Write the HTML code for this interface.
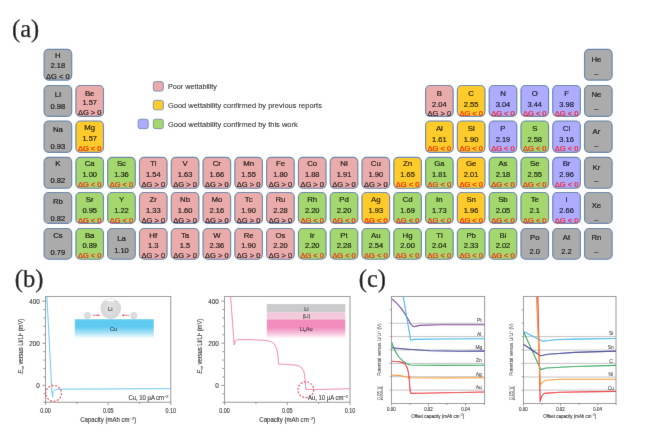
<!DOCTYPE html>
<html><head><meta charset="utf-8"><style>
html,body{margin:0;padding:0;background:#fff;}
body{width:650px;height:442px;overflow:hidden;position:relative;}
svg{position:absolute;left:0;top:0;}
text{font-family:"Liberation Sans",sans-serif;}
.c{font-size:7.5px;text-anchor:middle;fill:#000;stroke:#000;stroke-width:0.15px;}
.r{fill:#f5100a;stroke:#f5100a;stroke-width:0.24px;}
.s{font-size:7.8px;}
.lg{font-size:7.9px;fill:#111;stroke:#111;stroke-width:0.06px;}
.lab{font-family:"Liberation Serif",serif;font-size:24.5px;fill:#000;stroke:#000;stroke-width:0.25px;}
</style></head><body>
<svg width="650" height="442" viewBox="0 0 650 442">
<filter id="bl" x="0" y="0" width="1" height="1"><feConvolveMatrix order="3" kernelMatrix="1 2 1 2 40 2 1 2 1" divisor="52" edgeMode="duplicate"/></filter>
<g filter="url(#bl)"><rect x="0" y="0" width="650" height="442" fill="#fff"/>
<text x="12.0" y="36.5" class="lab">(a)</text>
<text x="14.8" y="287.3" class="lab">(b)</text>
<text x="358.8" y="287.2" class="lab">(c)</text>
<rect x="44.10" y="49.40" width="27.60" height="30.70" rx="4.5" ry="4.5" fill="#ababab" stroke="#5f80a6" stroke-width="1.15"/>
<text x="57.90" y="58.25" class="c s">H</text>
<text x="57.90" y="68.40" class="c">2.18</text>
<text x="57.90" y="79.10" class="c">ΔG &lt; 0</text>
<rect x="584.53" y="49.40" width="27.60" height="30.70" rx="4.5" ry="4.5" fill="#ababab" stroke="#5f80a6" stroke-width="1.15"/>
<text x="596.43" y="61.75" class="c s">He</text>
<text x="596.43" y="75.80" class="c">–</text>
<rect x="44.10" y="85.50" width="27.60" height="30.80" rx="4.5" ry="4.5" fill="#ababab" stroke="#5f80a6" stroke-width="1.15"/>
<text x="57.90" y="97.10" class="c s">Li</text>
<text x="57.90" y="108.65" class="c">0.98</text>
<rect x="75.89" y="85.50" width="27.60" height="30.80" rx="4.5" ry="4.5" fill="#eaabab" stroke="#5f80a6" stroke-width="1.15"/>
<text x="89.69" y="95.50" class="c s">Be</text>
<text x="89.69" y="104.95" class="c">1.57</text>
<text x="89.69" y="115.15" class="c">ΔG &gt; 0</text>
<rect x="425.58" y="85.50" width="27.60" height="30.80" rx="4.5" ry="4.5" fill="#eaabab" stroke="#5f80a6" stroke-width="1.15"/>
<text x="439.38" y="95.50" class="c s">B</text>
<text x="439.38" y="106.55" class="c">2.04</text>
<text x="439.38" y="115.95" class="c">ΔG &gt; 0</text>
<rect x="457.37" y="85.50" width="27.60" height="30.80" rx="4.5" ry="4.5" fill="#fecb2b" stroke="#5f80a6" stroke-width="1.15"/>
<text x="471.17" y="95.50" class="c s">C</text>
<text x="471.17" y="106.55" class="c">2.55</text>
<text x="471.17" y="115.95" class="c r">ΔG &lt; 0</text>
<rect x="489.16" y="85.50" width="27.60" height="30.80" rx="4.5" ry="4.5" fill="#adacff" stroke="#5f80a6" stroke-width="1.15"/>
<text x="502.96" y="95.50" class="c s">N</text>
<text x="502.96" y="106.55" class="c">3.04</text>
<text x="502.96" y="115.95" class="c r">ΔG &lt; 0</text>
<rect x="520.95" y="85.50" width="27.60" height="30.80" rx="4.5" ry="4.5" fill="#adacff" stroke="#5f80a6" stroke-width="1.15"/>
<text x="534.75" y="95.50" class="c s">O</text>
<text x="534.75" y="106.55" class="c">3.44</text>
<text x="534.75" y="115.95" class="c r">ΔG &lt; 0</text>
<rect x="552.74" y="85.50" width="27.60" height="30.80" rx="4.5" ry="4.5" fill="#adacff" stroke="#5f80a6" stroke-width="1.15"/>
<text x="566.54" y="95.50" class="c s">F</text>
<text x="566.54" y="106.55" class="c">3.98</text>
<text x="566.54" y="115.95" class="c r">ΔG &lt; 0</text>
<rect x="584.53" y="85.50" width="27.60" height="30.80" rx="4.5" ry="4.5" fill="#ababab" stroke="#5f80a6" stroke-width="1.15"/>
<text x="596.43" y="97.00" class="c s">Ne</text>
<text x="596.43" y="111.45" class="c">–</text>
<rect x="44.10" y="121.00" width="27.60" height="31.30" rx="4.5" ry="4.5" fill="#ababab" stroke="#5f80a6" stroke-width="1.15"/>
<text x="57.90" y="131.65" class="c s">Na</text>
<text x="57.90" y="148.70" class="c">0.93</text>
<rect x="75.89" y="121.00" width="27.60" height="31.30" rx="4.5" ry="4.5" fill="#fecb2b" stroke="#5f80a6" stroke-width="1.15"/>
<text x="89.69" y="130.05" class="c s">Mg</text>
<text x="89.69" y="140.80" class="c">1.57</text>
<text x="89.69" y="150.80" class="c r">ΔG &lt; 0</text>
<rect x="425.58" y="121.00" width="27.60" height="31.30" rx="4.5" ry="4.5" fill="#fecb2b" stroke="#5f80a6" stroke-width="1.15"/>
<text x="439.38" y="130.75" class="c s">Al</text>
<text x="439.38" y="141.80" class="c">1.61</text>
<text x="439.38" y="151.20" class="c r">ΔG &lt; 0</text>
<rect x="457.37" y="121.00" width="27.60" height="31.30" rx="4.5" ry="4.5" fill="#fecb2b" stroke="#5f80a6" stroke-width="1.15"/>
<text x="471.17" y="130.75" class="c s">Si</text>
<text x="471.17" y="141.80" class="c">1.90</text>
<text x="471.17" y="151.20" class="c r">ΔG &lt; 0</text>
<rect x="489.16" y="121.00" width="27.60" height="31.30" rx="4.5" ry="4.5" fill="#adacff" stroke="#5f80a6" stroke-width="1.15"/>
<text x="502.96" y="130.75" class="c s">P</text>
<text x="502.96" y="141.80" class="c">2.19</text>
<text x="502.96" y="151.20" class="c r">ΔG &lt; 0</text>
<rect x="520.95" y="121.00" width="27.60" height="31.30" rx="4.5" ry="4.5" fill="#a4d76e" stroke="#5f80a6" stroke-width="1.15"/>
<text x="534.75" y="130.75" class="c s">S</text>
<text x="534.75" y="141.80" class="c">2.58</text>
<text x="534.75" y="151.20" class="c r">ΔG &lt; 0</text>
<rect x="552.74" y="121.00" width="27.60" height="31.30" rx="4.5" ry="4.5" fill="#adacff" stroke="#5f80a6" stroke-width="1.15"/>
<text x="566.54" y="130.75" class="c s">Cl</text>
<text x="566.54" y="141.80" class="c">3.16</text>
<text x="566.54" y="151.20" class="c r">ΔG &lt; 0</text>
<rect x="584.53" y="121.00" width="27.60" height="31.30" rx="4.5" ry="4.5" fill="#ababab" stroke="#5f80a6" stroke-width="1.15"/>
<text x="596.43" y="134.35" class="c s">Ar</text>
<text x="596.43" y="148.10" class="c">–</text>
<rect x="44.10" y="157.40" width="27.60" height="30.90" rx="4.5" ry="4.5" fill="#ababab" stroke="#5f80a6" stroke-width="1.15"/>
<text x="57.90" y="166.00" class="c s">K</text>
<text x="57.90" y="182.95" class="c">0.82</text>
<rect x="75.89" y="157.40" width="27.60" height="30.90" rx="4.5" ry="4.5" fill="#a4d76e" stroke="#5f80a6" stroke-width="1.15"/>
<text x="89.69" y="165.80" class="c s">Ca</text>
<text x="89.69" y="177.05" class="c">1.00</text>
<text x="89.69" y="186.65" class="c r">ΔG &lt; 0</text>
<rect x="107.68" y="157.40" width="27.60" height="30.90" rx="4.5" ry="4.5" fill="#a4d76e" stroke="#5f80a6" stroke-width="1.15"/>
<text x="121.48" y="165.80" class="c s">Sc</text>
<text x="121.48" y="177.05" class="c">1.36</text>
<text x="121.48" y="186.65" class="c r">ΔG &lt; 0</text>
<rect x="139.47" y="157.40" width="27.60" height="30.90" rx="4.5" ry="4.5" fill="#eaabab" stroke="#5f80a6" stroke-width="1.15"/>
<text x="153.27" y="165.80" class="c s">Ti</text>
<text x="153.27" y="177.05" class="c">1.54</text>
<text x="153.27" y="186.65" class="c">ΔG &gt; 0</text>
<rect x="171.26" y="157.40" width="27.60" height="30.90" rx="4.5" ry="4.5" fill="#eaabab" stroke="#5f80a6" stroke-width="1.15"/>
<text x="185.06" y="165.80" class="c s">V</text>
<text x="185.06" y="177.05" class="c">1.63</text>
<text x="185.06" y="186.65" class="c">ΔG &gt; 0</text>
<rect x="203.05" y="157.40" width="27.60" height="30.90" rx="4.5" ry="4.5" fill="#eaabab" stroke="#5f80a6" stroke-width="1.15"/>
<text x="216.85" y="165.80" class="c s">Cr</text>
<text x="216.85" y="177.05" class="c">1.66</text>
<text x="216.85" y="186.65" class="c">ΔG &gt; 0</text>
<rect x="234.84" y="157.40" width="27.60" height="30.90" rx="4.5" ry="4.5" fill="#eaabab" stroke="#5f80a6" stroke-width="1.15"/>
<text x="248.64" y="165.80" class="c s">Mn</text>
<text x="248.64" y="177.05" class="c">1.55</text>
<text x="248.64" y="186.65" class="c">ΔG &gt; 0</text>
<rect x="266.63" y="157.40" width="27.60" height="30.90" rx="4.5" ry="4.5" fill="#eaabab" stroke="#5f80a6" stroke-width="1.15"/>
<text x="280.43" y="165.80" class="c s">Fe</text>
<text x="280.43" y="177.05" class="c">1.80</text>
<text x="280.43" y="186.65" class="c">ΔG &gt; 0</text>
<rect x="298.42" y="157.40" width="27.60" height="30.90" rx="4.5" ry="4.5" fill="#eaabab" stroke="#5f80a6" stroke-width="1.15"/>
<text x="312.22" y="165.80" class="c s">Co</text>
<text x="312.22" y="177.05" class="c">1.88</text>
<text x="312.22" y="186.65" class="c">ΔG &gt; 0</text>
<rect x="330.21" y="157.40" width="27.60" height="30.90" rx="4.5" ry="4.5" fill="#eaabab" stroke="#5f80a6" stroke-width="1.15"/>
<text x="344.01" y="165.80" class="c s">Ni</text>
<text x="344.01" y="177.05" class="c">1.91</text>
<text x="344.01" y="186.65" class="c">ΔG &gt; 0</text>
<rect x="362.00" y="157.40" width="27.60" height="30.90" rx="4.5" ry="4.5" fill="#eaabab" stroke="#5f80a6" stroke-width="1.15"/>
<text x="375.80" y="165.80" class="c s">Cu</text>
<text x="375.80" y="177.05" class="c">1.90</text>
<text x="375.80" y="186.65" class="c">ΔG &gt; 0</text>
<rect x="393.79" y="157.40" width="27.60" height="30.90" rx="4.5" ry="4.5" fill="#fecb2b" stroke="#5f80a6" stroke-width="1.15"/>
<text x="407.59" y="165.80" class="c s">Zn</text>
<text x="407.59" y="177.05" class="c">1.65</text>
<text x="407.59" y="186.65" class="c r">ΔG &lt; 0</text>
<rect x="425.58" y="157.40" width="27.60" height="30.90" rx="4.5" ry="4.5" fill="#a4d76e" stroke="#5f80a6" stroke-width="1.15"/>
<text x="439.38" y="165.80" class="c s">Ga</text>
<text x="439.38" y="177.05" class="c">1.81</text>
<text x="439.38" y="186.65" class="c r">ΔG &lt; 0</text>
<rect x="457.37" y="157.40" width="27.60" height="30.90" rx="4.5" ry="4.5" fill="#fecb2b" stroke="#5f80a6" stroke-width="1.15"/>
<text x="471.17" y="165.80" class="c s">Ge</text>
<text x="471.17" y="177.05" class="c">2.01</text>
<text x="471.17" y="186.65" class="c r">ΔG &lt; 0</text>
<rect x="489.16" y="157.40" width="27.60" height="30.90" rx="4.5" ry="4.5" fill="#a4d76e" stroke="#5f80a6" stroke-width="1.15"/>
<text x="502.96" y="165.80" class="c s">As</text>
<text x="502.96" y="177.05" class="c">2.18</text>
<text x="502.96" y="186.65" class="c r">ΔG &lt; 0</text>
<rect x="520.95" y="157.40" width="27.60" height="30.90" rx="4.5" ry="4.5" fill="#a4d76e" stroke="#5f80a6" stroke-width="1.15"/>
<text x="534.75" y="165.80" class="c s">Se</text>
<text x="534.75" y="177.05" class="c">2.55</text>
<text x="534.75" y="186.65" class="c r">ΔG &lt; 0</text>
<rect x="552.74" y="157.40" width="27.60" height="30.90" rx="4.5" ry="4.5" fill="#adacff" stroke="#5f80a6" stroke-width="1.15"/>
<text x="566.54" y="165.80" class="c s">Br</text>
<text x="566.54" y="177.05" class="c">2.96</text>
<text x="566.54" y="186.65" class="c r">ΔG &lt; 0</text>
<rect x="584.53" y="157.40" width="27.60" height="30.90" rx="4.5" ry="4.5" fill="#ababab" stroke="#5f80a6" stroke-width="1.15"/>
<text x="596.43" y="169.80" class="c s">Kr</text>
<text x="596.43" y="183.45" class="c">–</text>
<rect x="44.10" y="192.50" width="27.60" height="30.90" rx="4.5" ry="4.5" fill="#ababab" stroke="#5f80a6" stroke-width="1.15"/>
<text x="57.90" y="204.15" class="c s">Rb</text>
<text x="57.90" y="220.50" class="c">0.82</text>
<rect x="75.89" y="192.50" width="27.60" height="30.90" rx="4.5" ry="4.5" fill="#a4d76e" stroke="#5f80a6" stroke-width="1.15"/>
<text x="89.69" y="202.25" class="c s">Sr</text>
<text x="89.69" y="213.20" class="c">0.95</text>
<text x="89.69" y="222.90" class="c r">ΔG &lt; 0</text>
<rect x="107.68" y="192.50" width="27.60" height="30.90" rx="4.5" ry="4.5" fill="#a4d76e" stroke="#5f80a6" stroke-width="1.15"/>
<text x="121.48" y="202.25" class="c s">Y</text>
<text x="121.48" y="213.20" class="c">1.22</text>
<text x="121.48" y="222.90" class="c r">ΔG &lt; 0</text>
<rect x="139.47" y="192.50" width="27.60" height="30.90" rx="4.5" ry="4.5" fill="#eaabab" stroke="#5f80a6" stroke-width="1.15"/>
<text x="153.27" y="202.25" class="c s">Zr</text>
<text x="153.27" y="213.20" class="c">1.33</text>
<text x="153.27" y="222.90" class="c">ΔG &gt; 0</text>
<rect x="171.26" y="192.50" width="27.60" height="30.90" rx="4.5" ry="4.5" fill="#eaabab" stroke="#5f80a6" stroke-width="1.15"/>
<text x="185.06" y="202.25" class="c s">Nb</text>
<text x="185.06" y="213.20" class="c">1.60</text>
<text x="185.06" y="222.90" class="c">ΔG &gt; 0</text>
<rect x="203.05" y="192.50" width="27.60" height="30.90" rx="4.5" ry="4.5" fill="#eaabab" stroke="#5f80a6" stroke-width="1.15"/>
<text x="216.85" y="202.25" class="c s">Mo</text>
<text x="216.85" y="213.20" class="c">2.16</text>
<text x="216.85" y="222.90" class="c">ΔG &gt; 0</text>
<rect x="234.84" y="192.50" width="27.60" height="30.90" rx="4.5" ry="4.5" fill="#eaabab" stroke="#5f80a6" stroke-width="1.15"/>
<text x="248.64" y="202.25" class="c s">Tc</text>
<text x="248.64" y="213.20" class="c">1.90</text>
<text x="248.64" y="222.90" class="c">ΔG &gt; 0</text>
<rect x="266.63" y="192.50" width="27.60" height="30.90" rx="4.5" ry="4.5" fill="#eaabab" stroke="#5f80a6" stroke-width="1.15"/>
<text x="280.43" y="202.25" class="c s">Ru</text>
<text x="280.43" y="213.20" class="c">2.28</text>
<text x="280.43" y="222.90" class="c">ΔG &gt; 0</text>
<rect x="298.42" y="192.50" width="27.60" height="30.90" rx="4.5" ry="4.5" fill="#a4d76e" stroke="#5f80a6" stroke-width="1.15"/>
<text x="312.22" y="202.25" class="c s">Rh</text>
<text x="312.22" y="213.20" class="c">2.20</text>
<text x="312.22" y="222.90" class="c r">ΔG &lt; 0</text>
<rect x="330.21" y="192.50" width="27.60" height="30.90" rx="4.5" ry="4.5" fill="#a4d76e" stroke="#5f80a6" stroke-width="1.15"/>
<text x="344.01" y="202.25" class="c s">Pd</text>
<text x="344.01" y="213.20" class="c">2.20</text>
<text x="344.01" y="222.90" class="c r">ΔG &lt; 0</text>
<rect x="362.00" y="192.50" width="27.60" height="30.90" rx="4.5" ry="4.5" fill="#fecb2b" stroke="#5f80a6" stroke-width="1.15"/>
<text x="375.80" y="202.25" class="c s">Ag</text>
<text x="375.80" y="213.20" class="c">1.93</text>
<text x="375.80" y="222.90" class="c r">ΔG &lt; 0</text>
<rect x="393.79" y="192.50" width="27.60" height="30.90" rx="4.5" ry="4.5" fill="#a4d76e" stroke="#5f80a6" stroke-width="1.15"/>
<text x="407.59" y="202.25" class="c s">Cd</text>
<text x="407.59" y="213.20" class="c">1.69</text>
<text x="407.59" y="222.90" class="c r">ΔG &lt; 0</text>
<rect x="425.58" y="192.50" width="27.60" height="30.90" rx="4.5" ry="4.5" fill="#a4d76e" stroke="#5f80a6" stroke-width="1.15"/>
<text x="439.38" y="202.25" class="c s">In</text>
<text x="439.38" y="213.20" class="c">1.73</text>
<text x="439.38" y="222.90" class="c r">ΔG &lt; 0</text>
<rect x="457.37" y="192.50" width="27.60" height="30.90" rx="4.5" ry="4.5" fill="#fecb2b" stroke="#5f80a6" stroke-width="1.15"/>
<text x="471.17" y="202.25" class="c s">Sn</text>
<text x="471.17" y="213.20" class="c">1.96</text>
<text x="471.17" y="222.90" class="c r">ΔG &lt; 0</text>
<rect x="489.16" y="192.50" width="27.60" height="30.90" rx="4.5" ry="4.5" fill="#a4d76e" stroke="#5f80a6" stroke-width="1.15"/>
<text x="502.96" y="202.25" class="c s">Sb</text>
<text x="502.96" y="213.20" class="c">2.05</text>
<text x="502.96" y="222.90" class="c r">ΔG &lt; 0</text>
<rect x="520.95" y="192.50" width="27.60" height="30.90" rx="4.5" ry="4.5" fill="#a4d76e" stroke="#5f80a6" stroke-width="1.15"/>
<text x="534.75" y="202.25" class="c s">Te</text>
<text x="534.75" y="213.20" class="c">2.1</text>
<text x="534.75" y="222.90" class="c r">ΔG &lt; 0</text>
<rect x="552.74" y="192.50" width="27.60" height="30.90" rx="4.5" ry="4.5" fill="#adacff" stroke="#5f80a6" stroke-width="1.15"/>
<text x="566.54" y="202.25" class="c s">I</text>
<text x="566.54" y="213.20" class="c">2.66</text>
<text x="566.54" y="222.90" class="c r">ΔG &lt; 0</text>
<rect x="584.53" y="192.50" width="27.60" height="30.90" rx="4.5" ry="4.5" fill="#ababab" stroke="#5f80a6" stroke-width="1.15"/>
<text x="596.43" y="207.75" class="c s">Xe</text>
<text x="596.43" y="221.70" class="c">–</text>
<rect x="44.10" y="228.50" width="27.60" height="30.70" rx="4.5" ry="4.5" fill="#ababab" stroke="#5f80a6" stroke-width="1.15"/>
<text x="57.90" y="238.10" class="c s">Cs</text>
<text x="57.90" y="254.55" class="c">0.79</text>
<rect x="75.89" y="228.50" width="27.60" height="30.70" rx="4.5" ry="4.5" fill="#a4d76e" stroke="#5f80a6" stroke-width="1.15"/>
<text x="89.69" y="237.50" class="c s">Ba</text>
<text x="89.69" y="248.15" class="c">0.89</text>
<text x="89.69" y="258.35" class="c r">ΔG &lt; 0</text>
<rect x="107.68" y="228.50" width="27.60" height="30.70" rx="4.5" ry="4.5" fill="#ababab" stroke="#5f80a6" stroke-width="1.15"/>
<text x="121.48" y="241.30" class="c s">La</text>
<text x="121.48" y="253.15" class="c">1.10</text>
<rect x="139.47" y="228.50" width="27.60" height="30.70" rx="4.5" ry="4.5" fill="#eaabab" stroke="#5f80a6" stroke-width="1.15"/>
<text x="153.27" y="237.50" class="c s">Hf</text>
<text x="153.27" y="248.15" class="c">1.3</text>
<text x="153.27" y="258.35" class="c">ΔG &gt; 0</text>
<rect x="171.26" y="228.50" width="27.60" height="30.70" rx="4.5" ry="4.5" fill="#eaabab" stroke="#5f80a6" stroke-width="1.15"/>
<text x="185.06" y="237.50" class="c s">Ta</text>
<text x="185.06" y="248.15" class="c">1.5</text>
<text x="185.06" y="258.35" class="c">ΔG &gt; 0</text>
<rect x="203.05" y="228.50" width="27.60" height="30.70" rx="4.5" ry="4.5" fill="#eaabab" stroke="#5f80a6" stroke-width="1.15"/>
<text x="216.85" y="237.50" class="c s">W</text>
<text x="216.85" y="248.15" class="c">2.36</text>
<text x="216.85" y="258.35" class="c">ΔG &gt; 0</text>
<rect x="234.84" y="228.50" width="27.60" height="30.70" rx="4.5" ry="4.5" fill="#eaabab" stroke="#5f80a6" stroke-width="1.15"/>
<text x="248.64" y="237.50" class="c s">Re</text>
<text x="248.64" y="248.15" class="c">1.90</text>
<text x="248.64" y="258.35" class="c">ΔG &gt; 0</text>
<rect x="266.63" y="228.50" width="27.60" height="30.70" rx="4.5" ry="4.5" fill="#eaabab" stroke="#5f80a6" stroke-width="1.15"/>
<text x="280.43" y="237.50" class="c s">Os</text>
<text x="280.43" y="248.15" class="c">2.20</text>
<text x="280.43" y="258.35" class="c">ΔG &gt; 0</text>
<rect x="298.42" y="228.50" width="27.60" height="30.70" rx="4.5" ry="4.5" fill="#a4d76e" stroke="#5f80a6" stroke-width="1.15"/>
<text x="312.22" y="237.50" class="c s">Ir</text>
<text x="312.22" y="248.15" class="c">2.20</text>
<text x="312.22" y="258.35" class="c r">ΔG &lt; 0</text>
<rect x="330.21" y="228.50" width="27.60" height="30.70" rx="4.5" ry="4.5" fill="#a4d76e" stroke="#5f80a6" stroke-width="1.15"/>
<text x="344.01" y="237.50" class="c s">Pt</text>
<text x="344.01" y="248.15" class="c">2.28</text>
<text x="344.01" y="258.35" class="c r">ΔG &lt; 0</text>
<rect x="362.00" y="228.50" width="27.60" height="30.70" rx="4.5" ry="4.5" fill="#a4d76e" stroke="#5f80a6" stroke-width="1.15"/>
<text x="375.80" y="237.50" class="c s">Au</text>
<text x="375.80" y="248.15" class="c">2.54</text>
<text x="375.80" y="258.35" class="c r">ΔG &lt; 0</text>
<rect x="393.79" y="228.50" width="27.60" height="30.70" rx="4.5" ry="4.5" fill="#a4d76e" stroke="#5f80a6" stroke-width="1.15"/>
<text x="407.59" y="237.50" class="c s">Hg</text>
<text x="407.59" y="248.15" class="c">2.00</text>
<text x="407.59" y="258.35" class="c r">ΔG &lt; 0</text>
<rect x="425.58" y="228.50" width="27.60" height="30.70" rx="4.5" ry="4.5" fill="#a4d76e" stroke="#5f80a6" stroke-width="1.15"/>
<text x="439.38" y="237.50" class="c s">Tl</text>
<text x="439.38" y="248.15" class="c">2.04</text>
<text x="439.38" y="258.35" class="c r">ΔG &lt; 0</text>
<rect x="457.37" y="228.50" width="27.60" height="30.70" rx="4.5" ry="4.5" fill="#a4d76e" stroke="#5f80a6" stroke-width="1.15"/>
<text x="471.17" y="237.50" class="c s">Pb</text>
<text x="471.17" y="248.15" class="c">2.33</text>
<text x="471.17" y="258.35" class="c r">ΔG &lt; 0</text>
<rect x="489.16" y="228.50" width="27.60" height="30.70" rx="4.5" ry="4.5" fill="#a4d76e" stroke="#5f80a6" stroke-width="1.15"/>
<text x="502.96" y="237.50" class="c s">Bi</text>
<text x="502.96" y="248.15" class="c">2.02</text>
<text x="502.96" y="258.35" class="c r">ΔG &lt; 0</text>
<rect x="520.95" y="228.50" width="27.60" height="30.70" rx="4.5" ry="4.5" fill="#ababab" stroke="#5f80a6" stroke-width="1.15"/>
<text x="534.75" y="239.80" class="c s">Po</text>
<text x="534.75" y="253.65" class="c">2.0</text>
<rect x="552.74" y="228.50" width="27.60" height="30.70" rx="4.5" ry="4.5" fill="#ababab" stroke="#5f80a6" stroke-width="1.15"/>
<text x="566.54" y="239.80" class="c s">At</text>
<text x="566.54" y="253.65" class="c">2.2</text>
<rect x="584.53" y="228.50" width="27.60" height="30.70" rx="4.5" ry="4.5" fill="#ababab" stroke="#5f80a6" stroke-width="1.15"/>
<text x="596.43" y="239.90" class="c s">Rn</text>
<text x="596.43" y="254.35" class="c">–</text>
<rect x="153.3" y="81.6" width="10" height="9.5" rx="2" fill="#eaabab" stroke="#5f80a6" stroke-width="0.8"/>
<text x="167.9" y="89.19999999999999" class="lg" textLength="49.0" lengthAdjust="spacingAndGlyphs">Poor wettability</text>
<rect x="153.3" y="100.3" width="10" height="9.5" rx="2" fill="#fecb2b" stroke="#5f80a6" stroke-width="0.8"/>
<text x="167.9" y="107.89999999999999" class="lg" textLength="154.0" lengthAdjust="spacingAndGlyphs">Good wettability confirmed by previous reports</text>
<rect x="153.3" y="119.2" width="10" height="9.5" rx="2" fill="#a4d76e" stroke="#5f80a6" stroke-width="0.8"/>
<text x="167.9" y="126.5" class="lg" textLength="129.8" lengthAdjust="spacingAndGlyphs">Good wettability confirmed by this work</text>
<rect x="138.2" y="119.2" width="10" height="9.5" rx="2" fill="#adacff" stroke="#5f80a6" stroke-width="0.8"/>
<rect x="45.6" y="296.5" width="125.20000000000002" height="105.69999999999999" fill="none" stroke="#7a7a7a" stroke-width="0.8"/>
<line x1="43.4" y1="402.26" x2="45.6" y2="402.26" stroke="#7a7a7a" stroke-width="0.8"/>
<line x1="43.4" y1="393.83" x2="45.6" y2="393.83" stroke="#7a7a7a" stroke-width="0.8"/>
<line x1="42.300000000000004" y1="385.40" x2="45.6" y2="385.40" stroke="#7a7a7a" stroke-width="0.8"/>
<line x1="43.4" y1="376.97" x2="45.6" y2="376.97" stroke="#7a7a7a" stroke-width="0.8"/>
<line x1="43.4" y1="368.54" x2="45.6" y2="368.54" stroke="#7a7a7a" stroke-width="0.8"/>
<line x1="43.4" y1="360.10" x2="45.6" y2="360.10" stroke="#7a7a7a" stroke-width="0.8"/>
<line x1="43.4" y1="351.67" x2="45.6" y2="351.67" stroke="#7a7a7a" stroke-width="0.8"/>
<line x1="42.300000000000004" y1="343.24" x2="45.6" y2="343.24" stroke="#7a7a7a" stroke-width="0.8"/>
<line x1="43.4" y1="334.81" x2="45.6" y2="334.81" stroke="#7a7a7a" stroke-width="0.8"/>
<line x1="43.4" y1="326.38" x2="45.6" y2="326.38" stroke="#7a7a7a" stroke-width="0.8"/>
<line x1="43.4" y1="317.94" x2="45.6" y2="317.94" stroke="#7a7a7a" stroke-width="0.8"/>
<line x1="43.4" y1="309.51" x2="45.6" y2="309.51" stroke="#7a7a7a" stroke-width="0.8"/>
<line x1="42.300000000000004" y1="301.08" x2="45.6" y2="301.08" stroke="#7a7a7a" stroke-width="0.8"/>
<text x="39.80" y="303.98" font-size="6.6" text-anchor="end" fill="#1e1e1e" stroke="#1e1e1e" stroke-width="0.1" textLength="10.6" lengthAdjust="spacingAndGlyphs">400</text>
<text x="39.80" y="346.14" font-size="6.6" text-anchor="end" fill="#1e1e1e" stroke="#1e1e1e" stroke-width="0.1" textLength="10.6" lengthAdjust="spacingAndGlyphs">200</text>
<text x="39.80" y="388.30" font-size="6.6" text-anchor="end" fill="#1e1e1e" stroke="#1e1e1e" stroke-width="0.1" textLength="3.5" lengthAdjust="spacingAndGlyphs">0</text>
<line x1="45.60" y1="402.2" x2="45.60" y2="405.0" stroke="#7a7a7a" stroke-width="0.8"/>
<line x1="76.90" y1="402.2" x2="76.90" y2="404.0" stroke="#7a7a7a" stroke-width="0.8"/>
<line x1="108.20" y1="402.2" x2="108.20" y2="405.0" stroke="#7a7a7a" stroke-width="0.8"/>
<line x1="139.50" y1="402.2" x2="139.50" y2="404.0" stroke="#7a7a7a" stroke-width="0.8"/>
<line x1="170.80" y1="402.2" x2="170.80" y2="405.0" stroke="#7a7a7a" stroke-width="0.8"/>
<text x="45.60" y="412.80" font-size="6.6" text-anchor="middle" fill="#1e1e1e" stroke="#1e1e1e" stroke-width="0.1" textLength="10.6" lengthAdjust="spacingAndGlyphs">0.00</text>
<text x="108.20" y="412.80" font-size="6.6" text-anchor="middle" fill="#1e1e1e" stroke="#1e1e1e" stroke-width="0.1" textLength="10.6" lengthAdjust="spacingAndGlyphs">0.05</text>
<text x="170.80" y="412.80" font-size="6.6" text-anchor="middle" fill="#1e1e1e" stroke="#1e1e1e" stroke-width="0.1" textLength="10.6" lengthAdjust="spacingAndGlyphs">0.10</text>
<text x="108.20" y="422.00" font-size="6.3" text-anchor="middle" fill="#1e1e1e" stroke="#1e1e1e" stroke-width="0.1" textLength="56" lengthAdjust="spacingAndGlyphs">Capacity (mAh cm<tspan font-size="4.2" dy="-2.3">−2</tspan><tspan dy="2.3">)</tspan></text>
<text transform="translate(20.70,346.2) rotate(-90)" x="0" y="2.2" font-size="7" text-anchor="middle" fill="#222" stroke="#222" stroke-width="0.1" textLength="55" lengthAdjust="spacingAndGlyphs"><tspan font-style="italic">E</tspan><tspan font-size="4.2" dy="1.3">int</tspan><tspan dy="-1.3"> versus Li/Li</tspan><tspan font-size="4.2" dy="-2.4">+</tspan><tspan dy="2.4"> (mV)</tspan></text>
<clipPath id="cb1"><rect x="45.6" y="296.5" width="125.20000000000002" height="105.69999999999999"/></clipPath>
<polyline clip-path="url(#cb1)" points="46.60,290.00 46.90,296.50 51.80,390.00 52.50,397.20 53.10,391.50 54.50,390.20 57.00,389.40 62.00,389.10 100.00,389.00 171.00,388.60" fill="none" stroke="#62c6ee" stroke-width="1.0" stroke-linejoin="round"/>
<rect x="224.6" y="296.5" width="125.4" height="105.69999999999999" fill="none" stroke="#7a7a7a" stroke-width="0.8"/>
<line x1="222.4" y1="402.26" x2="224.6" y2="402.26" stroke="#7a7a7a" stroke-width="0.8"/>
<line x1="222.4" y1="393.83" x2="224.6" y2="393.83" stroke="#7a7a7a" stroke-width="0.8"/>
<line x1="221.29999999999998" y1="385.40" x2="224.6" y2="385.40" stroke="#7a7a7a" stroke-width="0.8"/>
<line x1="222.4" y1="376.97" x2="224.6" y2="376.97" stroke="#7a7a7a" stroke-width="0.8"/>
<line x1="222.4" y1="368.54" x2="224.6" y2="368.54" stroke="#7a7a7a" stroke-width="0.8"/>
<line x1="222.4" y1="360.10" x2="224.6" y2="360.10" stroke="#7a7a7a" stroke-width="0.8"/>
<line x1="222.4" y1="351.67" x2="224.6" y2="351.67" stroke="#7a7a7a" stroke-width="0.8"/>
<line x1="221.29999999999998" y1="343.24" x2="224.6" y2="343.24" stroke="#7a7a7a" stroke-width="0.8"/>
<line x1="222.4" y1="334.81" x2="224.6" y2="334.81" stroke="#7a7a7a" stroke-width="0.8"/>
<line x1="222.4" y1="326.38" x2="224.6" y2="326.38" stroke="#7a7a7a" stroke-width="0.8"/>
<line x1="222.4" y1="317.94" x2="224.6" y2="317.94" stroke="#7a7a7a" stroke-width="0.8"/>
<line x1="222.4" y1="309.51" x2="224.6" y2="309.51" stroke="#7a7a7a" stroke-width="0.8"/>
<line x1="221.29999999999998" y1="301.08" x2="224.6" y2="301.08" stroke="#7a7a7a" stroke-width="0.8"/>
<text x="218.80" y="303.98" font-size="6.6" text-anchor="end" fill="#1e1e1e" stroke="#1e1e1e" stroke-width="0.1" textLength="10.6" lengthAdjust="spacingAndGlyphs">400</text>
<text x="218.80" y="346.14" font-size="6.6" text-anchor="end" fill="#1e1e1e" stroke="#1e1e1e" stroke-width="0.1" textLength="10.6" lengthAdjust="spacingAndGlyphs">200</text>
<text x="218.80" y="388.30" font-size="6.6" text-anchor="end" fill="#1e1e1e" stroke="#1e1e1e" stroke-width="0.1" textLength="3.5" lengthAdjust="spacingAndGlyphs">0</text>
<line x1="224.60" y1="402.2" x2="224.60" y2="405.0" stroke="#7a7a7a" stroke-width="0.8"/>
<line x1="255.95" y1="402.2" x2="255.95" y2="404.0" stroke="#7a7a7a" stroke-width="0.8"/>
<line x1="287.30" y1="402.2" x2="287.30" y2="405.0" stroke="#7a7a7a" stroke-width="0.8"/>
<line x1="318.65" y1="402.2" x2="318.65" y2="404.0" stroke="#7a7a7a" stroke-width="0.8"/>
<line x1="350.00" y1="402.2" x2="350.00" y2="405.0" stroke="#7a7a7a" stroke-width="0.8"/>
<text x="224.60" y="412.80" font-size="6.6" text-anchor="middle" fill="#1e1e1e" stroke="#1e1e1e" stroke-width="0.1" textLength="10.6" lengthAdjust="spacingAndGlyphs">0.00</text>
<text x="287.30" y="412.80" font-size="6.6" text-anchor="middle" fill="#1e1e1e" stroke="#1e1e1e" stroke-width="0.1" textLength="10.6" lengthAdjust="spacingAndGlyphs">0.05</text>
<text x="350.00" y="412.80" font-size="6.6" text-anchor="middle" fill="#1e1e1e" stroke="#1e1e1e" stroke-width="0.1" textLength="10.6" lengthAdjust="spacingAndGlyphs">0.10</text>
<text x="287.30" y="422.00" font-size="6.3" text-anchor="middle" fill="#1e1e1e" stroke="#1e1e1e" stroke-width="0.1" textLength="56" lengthAdjust="spacingAndGlyphs">Capacity (mAh cm<tspan font-size="4.2" dy="-2.3">−2</tspan><tspan dy="2.3">)</tspan></text>
<text transform="translate(199.70,346.2) rotate(-90)" x="0" y="2.2" font-size="7" text-anchor="middle" fill="#222" stroke="#222" stroke-width="0.1" textLength="55" lengthAdjust="spacingAndGlyphs"><tspan font-style="italic">E</tspan><tspan font-size="4.2" dy="1.3">int</tspan><tspan dy="-1.3"> versus Li/Li</tspan><tspan font-size="4.2" dy="-2.4">+</tspan><tspan dy="2.4"> (mV)</tspan></text>
<clipPath id="cb2"><rect x="224.6" y="296.5" width="125.4" height="105.69999999999999"/></clipPath>
<polyline clip-path="url(#cb2)" points="230.20,290.00 230.60,296.40 234.20,345.00 235.30,340.80 237.50,339.70 250.00,339.60 265.80,340.40 270.50,341.50 273.80,343.40 276.20,347.50 277.60,353.00 278.30,360.00 278.80,364.30 281.70,364.10 295.90,365.20 299.50,366.20 302.30,368.40 304.00,372.00 304.90,378.00 305.50,385.00 305.90,389.30 320.00,389.50 350.00,388.70" fill="none" stroke="#ef83b6" stroke-width="1.0" stroke-linejoin="round"/>
<circle cx="53.6" cy="393.3" r="7.9" fill="none" stroke="#e8323c" stroke-width="1.1" stroke-dasharray="1.9 1.6"/>
<circle cx="305.8" cy="389.7" r="7.9" fill="none" stroke="#e8323c" stroke-width="1.1" stroke-dasharray="1.9 1.6"/>
<text x="168.50" y="400.40" font-size="6.4" text-anchor="end" fill="#1e1e1e" stroke="#1e1e1e" stroke-width="0.1" textLength="40" lengthAdjust="spacingAndGlyphs">Cu, 10 µA cm<tspan font-size="4.3" dy="-2.2">−2</tspan></text>
<text x="348.00" y="400.40" font-size="6.4" text-anchor="end" fill="#1e1e1e" stroke="#1e1e1e" stroke-width="0.1" textLength="40" lengthAdjust="spacingAndGlyphs">Au, 10 µA cm<tspan font-size="4.3" dy="-2.2">−2</tspan></text>
<defs>
<linearGradient id="gcu" x1="0" y1="0" x2="0" y2="1">
 <stop offset="0" stop-color="#5fcaf0"/><stop offset="0.4" stop-color="#5fcaf0"/><stop offset="0.7" stop-color="#5fcaf0" stop-opacity="0.55"/><stop offset="1" stop-color="#5fcaf0" stop-opacity="0"/></linearGradient>
<linearGradient id="gau" x1="0" y1="0" x2="0" y2="1">
 <stop offset="0" stop-color="#f18cbd"/><stop offset="0.42" stop-color="#f18cbd"/><stop offset="0.72" stop-color="#f18cbd" stop-opacity="0.55"/><stop offset="1" stop-color="#f18cbd" stop-opacity="0"/></linearGradient>
<radialGradient id="gli" cx="0.5" cy="0.45" r="0.6">
 <stop offset="0" stop-color="#e2e2e4"/><stop offset="0.85" stop-color="#d6d6d8"/><stop offset="1" stop-color="#c8c8ca"/></radialGradient>
</defs>
<rect x="74.8" y="319.2" width="79" height="19.4" fill="url(#gcu)"/>
<circle cx="110.8" cy="308.6" r="10.3" fill="url(#gli)"/>
<ellipse cx="110.6" cy="300.3" rx="4.3" ry="1.3" fill="#fff"/>
<circle cx="87.4" cy="315.6" r="3.5" fill="url(#gli)"/>
<circle cx="133.8" cy="315.6" r="3.5" fill="url(#gli)"/>
<line x1="92.3" y1="315.3" x2="98.5" y2="315.3" stroke="#e63a4a" stroke-width="0.7"/><path d="M99.8,315.3 L97.6,314.1 L97.6,316.5 Z" fill="#e63a4a"/>
<line x1="129.2" y1="315.3" x2="123" y2="315.3" stroke="#e63a4a" stroke-width="0.7"/><path d="M121.7,315.3 L123.9,314.1 L123.9,316.5 Z" fill="#e63a4a"/>
<text x="110.30" y="310.90" font-size="5.8" text-anchor="middle" fill="#333" stroke="#333" stroke-width="0.1" >Li</text>
<text x="113.50" y="331.20" font-size="5.4" text-anchor="middle" fill="#333" stroke="#333" stroke-width="0.1" >Cu</text>
<rect x="266.8" y="304" width="78.5" height="8.2" fill="#cbcbcd"/>
<rect x="266.8" y="312.2" width="78.5" height="7.2" fill="#f2cadb"/>
<rect x="266.8" y="319.4" width="78.5" height="19.2" fill="url(#gau)"/>
<text x="306.40" y="310.60" font-size="5.4" text-anchor="middle" fill="#333" stroke="#333" stroke-width="0.1" >Li</text>
<text x="306.40" y="318.20" font-size="5.2" text-anchor="middle" fill="#333" stroke="#333" stroke-width="0.1" >(Li)</text>
<text x="306.20" y="331.20" font-size="5.6" text-anchor="middle" fill="#333" stroke="#333" stroke-width="0.1" >Li<tspan font-size="3.6" dy="1.1">x</tspan><tspan dy="-1.1">Au</tspan></text>
<rect x="391.4" y="296.4" width="93.30000000000001" height="107.10000000000002" fill="none" stroke="#7a7a7a" stroke-width="0.8"/>
<line x1="391.4" y1="323.3" x2="484.7" y2="323.3" stroke="#b4b4b4" stroke-width="0.8"/>
<line x1="391.4" y1="336.6" x2="484.7" y2="336.6" stroke="#b4b4b4" stroke-width="0.8"/>
<line x1="391.4" y1="350.0" x2="484.7" y2="350.0" stroke="#b4b4b4" stroke-width="0.8"/>
<line x1="391.4" y1="363.4" x2="484.7" y2="363.4" stroke="#b4b4b4" stroke-width="0.8"/>
<line x1="391.4" y1="376.7" x2="484.7" y2="376.7" stroke="#b4b4b4" stroke-width="0.8"/>
<line x1="391.4" y1="390.1" x2="484.7" y2="390.1" stroke="#b4b4b4" stroke-width="0.8"/>
<line x1="389.59999999999997" y1="309.79" x2="391.4" y2="309.79" stroke="#7a7a7a" stroke-width="0.7"/>
<line x1="389.59999999999997" y1="323.17" x2="391.4" y2="323.17" stroke="#7a7a7a" stroke-width="0.7"/>
<line x1="389.59999999999997" y1="336.56" x2="391.4" y2="336.56" stroke="#7a7a7a" stroke-width="0.7"/>
<line x1="389.59999999999997" y1="349.95" x2="391.4" y2="349.95" stroke="#7a7a7a" stroke-width="0.7"/>
<line x1="389.59999999999997" y1="363.34" x2="391.4" y2="363.34" stroke="#7a7a7a" stroke-width="0.7"/>
<line x1="389.59999999999997" y1="376.73" x2="391.4" y2="376.73" stroke="#7a7a7a" stroke-width="0.7"/>
<line x1="389.59999999999997" y1="390.11" x2="391.4" y2="390.11" stroke="#7a7a7a" stroke-width="0.7"/>
<line x1="391.40" y1="403.5" x2="391.40" y2="405.7" stroke="#7a7a7a" stroke-width="0.7"/>
<line x1="409.95" y1="403.5" x2="409.95" y2="405.0" stroke="#7a7a7a" stroke-width="0.7"/>
<line x1="428.50" y1="403.5" x2="428.50" y2="405.7" stroke="#7a7a7a" stroke-width="0.7"/>
<line x1="447.05" y1="403.5" x2="447.05" y2="405.0" stroke="#7a7a7a" stroke-width="0.7"/>
<line x1="465.60" y1="403.5" x2="465.60" y2="405.7" stroke="#7a7a7a" stroke-width="0.7"/>
<line x1="484.15" y1="403.5" x2="484.15" y2="405.0" stroke="#7a7a7a" stroke-width="0.7"/>
<text x="391.40" y="410.80" font-size="5.3" text-anchor="middle" fill="#1e1e1e" stroke="#1e1e1e" stroke-width="0.1" textLength="8.6" lengthAdjust="spacingAndGlyphs">0.00</text>
<text x="428.50" y="410.80" font-size="5.3" text-anchor="middle" fill="#1e1e1e" stroke="#1e1e1e" stroke-width="0.1" textLength="8.6" lengthAdjust="spacingAndGlyphs">0.02</text>
<text x="465.60" y="410.80" font-size="5.3" text-anchor="middle" fill="#1e1e1e" stroke="#1e1e1e" stroke-width="0.1" textLength="8.6" lengthAdjust="spacingAndGlyphs">0.04</text>
<text x="437.80" y="418.00" font-size="5.1" text-anchor="middle" fill="#1e1e1e" stroke="#1e1e1e" stroke-width="0.1" textLength="53" lengthAdjust="spacingAndGlyphs">Offset capacity (mAh cm<tspan font-size="3.4" dy="-1.8">−2</tspan><tspan dy="1.8">)</tspan></text>
<text transform="translate(379.40,349.6) rotate(-90)" x="0" y="1.6" font-size="4.9" text-anchor="middle" fill="#1e1e1e" textLength="52.5" lengthAdjust="spacingAndGlyphs">Potential versus Li/Li<tspan font-size="3.2" dy="-1.6">+</tspan><tspan dy="1.6"> (V)</tspan></text>
<line x1="382.0" y1="387" x2="382.0" y2="399.6" stroke="#333" stroke-width="0.7"/>
<line x1="381.09999999999997" y1="387" x2="382.9" y2="387" stroke="#333" stroke-width="0.7"/>
<line x1="381.09999999999997" y1="399.6" x2="382.9" y2="399.6" stroke="#333" stroke-width="0.7"/>
<text transform="translate(378.90,393.2) rotate(-90)" x="0" y="1.6" font-size="4.6" text-anchor="middle" fill="#1e1e1e">0.05 V</text>
<clipPath id="cc391"><rect x="391.4" y="296.4" width="93.30000000000001" height="107.10000000000002"/></clipPath>
<path clip-path="url(#cc391)" d="M391.8,299.0 C398,303 404,311 410.5,323.5 C412,326.5 413,327.2 415,326.4 L420,325.4 L440,324.8 L484.7,324.7" fill="none" stroke="#7b3f98" stroke-width="1.1" stroke-linejoin="round"/>
<path clip-path="url(#cc391)" d="M402.9,290 L403.2,296.4 L410.7,340.2 L414,339.4 L440,339.0 L484.7,338.8" fill="none" stroke="#2fb5e8" stroke-width="1.1" stroke-linejoin="round"/>
<path clip-path="url(#cc391)" d="M391.7,347.8 L405,349.0 L430,350.8 L460,351.2 L484.7,351.1" fill="none" stroke="#2e3192" stroke-width="1.1" stroke-linejoin="round"/>
<path clip-path="url(#cc391)" d="M391.7,342.2 C395,352 399,361 410,365.0 L440,365.4 L484.7,365.3" fill="none" stroke="#1aa553" stroke-width="1.1" stroke-linejoin="round"/>
<path clip-path="url(#cc391)" d="M391.7,375.0 L400,375.6 L408,377.2 L411,377.8 L440,378.0 L484.7,377.8" fill="none" stroke="#f7941d" stroke-width="1.1" stroke-linejoin="round"/>
<path clip-path="url(#cc391)" d="M391.7,361.3 L399,361.8 L403,362.6 L405.2,364.3 L406.6,366.5 L407.6,369.2 L408.4,372.5 L408.9,376 L409.4,381 L409.8,387 L410.2,391.5 L410.9,393.4 L420,393.2 L484.7,392.0" fill="none" stroke="#ec1c24" stroke-width="1.1" stroke-linejoin="round"/>
<text x="479.20" y="322.20" font-size="4.9" text-anchor="middle" fill="#444" stroke="#444" stroke-width="0.1" >Pt</text>
<text x="479.20" y="335.60" font-size="4.9" text-anchor="middle" fill="#444" stroke="#444" stroke-width="0.1" >Al</text>
<text x="478.80" y="349.00" font-size="4.9" text-anchor="middle" fill="#444" stroke="#444" stroke-width="0.1" >Mg</text>
<text x="478.80" y="362.40" font-size="4.9" text-anchor="middle" fill="#444" stroke="#444" stroke-width="0.1" >Zn</text>
<text x="478.80" y="375.80" font-size="4.9" text-anchor="middle" fill="#444" stroke="#444" stroke-width="0.1" >Ag</text>
<text x="478.80" y="389.20" font-size="4.9" text-anchor="middle" fill="#444" stroke="#444" stroke-width="0.1" >Au</text>
<rect x="523.4" y="296.4" width="92.60000000000002" height="107.10000000000002" fill="none" stroke="#7a7a7a" stroke-width="0.8"/>
<line x1="523.4" y1="336.6" x2="616.0" y2="336.6" stroke="#b4b4b4" stroke-width="0.8"/>
<line x1="523.4" y1="350.1" x2="616.0" y2="350.1" stroke="#b4b4b4" stroke-width="0.8"/>
<line x1="523.4" y1="363.4" x2="616.0" y2="363.4" stroke="#b4b4b4" stroke-width="0.8"/>
<line x1="523.4" y1="377.0" x2="616.0" y2="377.0" stroke="#b4b4b4" stroke-width="0.8"/>
<line x1="523.4" y1="390.1" x2="616.0" y2="390.1" stroke="#b4b4b4" stroke-width="0.8"/>
<line x1="521.6" y1="309.79" x2="523.4" y2="309.79" stroke="#7a7a7a" stroke-width="0.7"/>
<line x1="521.6" y1="323.17" x2="523.4" y2="323.17" stroke="#7a7a7a" stroke-width="0.7"/>
<line x1="521.6" y1="336.56" x2="523.4" y2="336.56" stroke="#7a7a7a" stroke-width="0.7"/>
<line x1="521.6" y1="349.95" x2="523.4" y2="349.95" stroke="#7a7a7a" stroke-width="0.7"/>
<line x1="521.6" y1="363.34" x2="523.4" y2="363.34" stroke="#7a7a7a" stroke-width="0.7"/>
<line x1="521.6" y1="376.73" x2="523.4" y2="376.73" stroke="#7a7a7a" stroke-width="0.7"/>
<line x1="521.6" y1="390.11" x2="523.4" y2="390.11" stroke="#7a7a7a" stroke-width="0.7"/>
<line x1="523.40" y1="403.5" x2="523.40" y2="405.7" stroke="#7a7a7a" stroke-width="0.7"/>
<line x1="541.95" y1="403.5" x2="541.95" y2="405.0" stroke="#7a7a7a" stroke-width="0.7"/>
<line x1="560.50" y1="403.5" x2="560.50" y2="405.7" stroke="#7a7a7a" stroke-width="0.7"/>
<line x1="579.05" y1="403.5" x2="579.05" y2="405.0" stroke="#7a7a7a" stroke-width="0.7"/>
<line x1="597.60" y1="403.5" x2="597.60" y2="405.7" stroke="#7a7a7a" stroke-width="0.7"/>
<line x1="616.15" y1="403.5" x2="616.15" y2="405.0" stroke="#7a7a7a" stroke-width="0.7"/>
<text x="523.40" y="410.80" font-size="5.3" text-anchor="middle" fill="#1e1e1e" stroke="#1e1e1e" stroke-width="0.1" textLength="8.6" lengthAdjust="spacingAndGlyphs">0.00</text>
<text x="560.50" y="410.80" font-size="5.3" text-anchor="middle" fill="#1e1e1e" stroke="#1e1e1e" stroke-width="0.1" textLength="8.6" lengthAdjust="spacingAndGlyphs">0.02</text>
<text x="597.60" y="410.80" font-size="5.3" text-anchor="middle" fill="#1e1e1e" stroke="#1e1e1e" stroke-width="0.1" textLength="8.6" lengthAdjust="spacingAndGlyphs">0.04</text>
<text x="569.80" y="418.00" font-size="5.1" text-anchor="middle" fill="#1e1e1e" stroke="#1e1e1e" stroke-width="0.1" textLength="53" lengthAdjust="spacingAndGlyphs">Offset capacity (mAh cm<tspan font-size="3.4" dy="-1.8">−2</tspan><tspan dy="1.8">)</tspan></text>
<text transform="translate(511.40,349.6) rotate(-90)" x="0" y="1.6" font-size="4.9" text-anchor="middle" fill="#1e1e1e" textLength="52.5" lengthAdjust="spacingAndGlyphs">Potential versus Li/Li<tspan font-size="3.2" dy="-1.6">+</tspan><tspan dy="1.6"> (V)</tspan></text>
<line x1="514.0" y1="387" x2="514.0" y2="399.6" stroke="#333" stroke-width="0.7"/>
<line x1="513.1" y1="387" x2="514.9" y2="387" stroke="#333" stroke-width="0.7"/>
<line x1="513.1" y1="399.6" x2="514.9" y2="399.6" stroke="#333" stroke-width="0.7"/>
<text transform="translate(510.90,393.2) rotate(-90)" x="0" y="1.6" font-size="4.6" text-anchor="middle" fill="#1e1e1e">0.05 V</text>
<clipPath id="cc523"><rect x="523.4" y="296.4" width="92.60000000000002" height="107.10000000000002"/></clipPath>
<path clip-path="url(#cc523)" d="M523.4,331.5 L542.8,341.2 L555,339.8 L575,339.1 L616,338.5" fill="none" stroke="#2fb5e8" stroke-width="1.1" stroke-linejoin="round"/>
<path clip-path="url(#cc523)" d="M523.4,331.5 L540.8,369.6 L546,368.0 L575,366.5 L616,365.4" fill="none" stroke="#1aa553" stroke-width="1.1" stroke-linejoin="round"/>
<path clip-path="url(#cc523)" d="M523.4,344.2 L540.6,355.7 L548,354.2 L575,352.4 L616,351.1" fill="none" stroke="#2e3192" stroke-width="1.1" stroke-linejoin="round"/>
<path clip-path="url(#cc523)" d="M537.8,296.4 L540.2,401.7 C540.8,398 541.5,395.5 544.2,393.4 L560,392.2 L616,391.4" fill="none" stroke="#ec1c24" stroke-width="1.1" stroke-linejoin="round"/>
<path clip-path="url(#cc523)" d="M536.4,296.4 L540.4,385.6 C541,383 541.8,381.8 546.3,380.3 L560,379.3 L616,379.2" fill="none" stroke="#f7941d" stroke-width="1.1" stroke-linejoin="round"/>
<text x="611.30" y="334.80" font-size="4.9" text-anchor="middle" fill="#444" stroke="#444" stroke-width="0.1" >Si</text>
<text x="610.80" y="349.00" font-size="4.9" text-anchor="middle" fill="#444" stroke="#444" stroke-width="0.1" >Sn</text>
<text x="611.00" y="362.60" font-size="4.9" text-anchor="middle" fill="#444" stroke="#444" stroke-width="0.1" >C</text>
<text x="610.80" y="375.80" font-size="4.9" text-anchor="middle" fill="#444" stroke="#444" stroke-width="0.1" >Ni</text>
<text x="610.80" y="389.60" font-size="4.9" text-anchor="middle" fill="#444" stroke="#444" stroke-width="0.1" >Cu</text>
</g></svg>
</body></html>
